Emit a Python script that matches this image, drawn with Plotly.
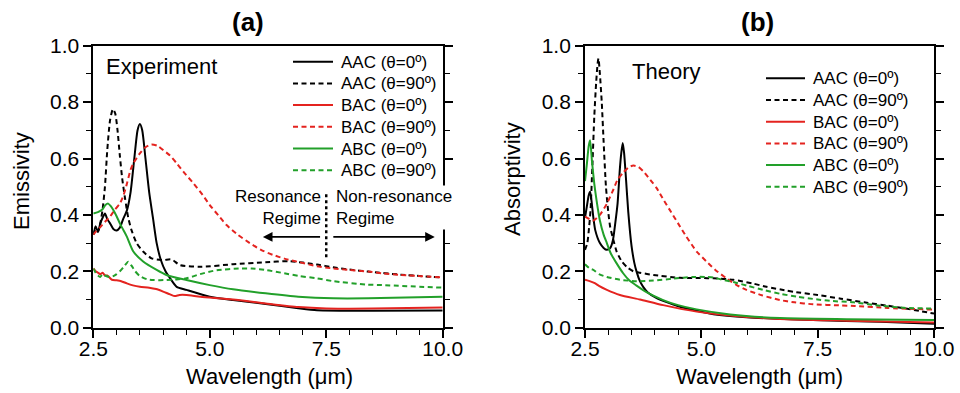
import plotly.graph_objects as go

# ---------------- data: panel (a) Experiment ----------------
a_aac0_x = [2.50, 2.55, 2.60, 2.65, 2.70, 2.75, 2.80, 2.86, 2.93, 3.00, 3.07, 3.14, 3.22, 3.30, 3.38, 3.45, 3.50, 3.55, 3.62, 3.70, 3.78, 3.86, 3.95, 4.05, 4.15, 4.29, 4.50, 5.00, 5.50, 6.20, 6.90, 7.30, 8.50, 10.0]
a_aac0_y = [0.33, 0.36, 0.34, 0.37, 0.39, 0.405, 0.385, 0.37, 0.35, 0.345, 0.355, 0.385, 0.415, 0.48, 0.60, 0.70, 0.722, 0.70, 0.60, 0.48, 0.39, 0.30, 0.24, 0.20, 0.175, 0.145, 0.134, 0.11, 0.098, 0.084, 0.069, 0.062, 0.060, 0.061]

a_aac90_x = [2.50, 2.55, 2.60, 2.65, 2.70, 2.75, 2.80, 2.86, 2.92, 2.97, 3.02, 3.07, 3.12, 3.18, 3.25, 3.32, 3.43, 3.57, 3.75, 4.00, 4.18, 4.36, 4.80, 5.50, 6.20, 6.70, 7.30, 7.65, 8.00, 8.40, 9.10, 10.0]
a_aac90_y = [0.33, 0.35, 0.34, 0.37, 0.42, 0.50, 0.63, 0.736, 0.775, 0.76, 0.70, 0.61, 0.53, 0.46, 0.39, 0.346, 0.30, 0.27, 0.246, 0.24, 0.242, 0.222, 0.216, 0.225, 0.232, 0.236, 0.224, 0.214, 0.206, 0.199, 0.188, 0.178]

a_bac0_x = [2.50, 2.55, 2.60, 2.65, 2.70, 2.75, 2.80, 2.90, 3.00, 3.10, 3.22, 3.35, 3.50, 3.70, 3.85, 4.00, 4.15, 4.25, 4.35, 4.50, 4.80, 5.50, 6.20, 6.90, 7.50, 8.50, 10.0]
a_bac0_y = [0.21, 0.20, 0.195, 0.19, 0.195, 0.185, 0.185, 0.17, 0.168, 0.165, 0.157, 0.15, 0.145, 0.142, 0.137, 0.128, 0.118, 0.112, 0.116, 0.116, 0.11, 0.10, 0.086, 0.073, 0.068, 0.068, 0.072]

a_bac90_x = [2.50, 2.55, 2.64, 2.75, 2.86, 2.97, 3.07, 3.15, 3.22, 3.30, 3.36, 3.50, 3.62, 3.75, 3.88, 4.00, 4.15, 4.29, 4.45, 4.65, 4.85, 5.00, 5.20, 5.36, 5.60, 5.86, 6.10, 6.36, 6.60, 6.93, 7.30, 7.65, 8.00, 8.40, 8.70, 9.10, 10.0]
a_bac90_y = [0.33, 0.34, 0.355, 0.375, 0.394, 0.42, 0.44, 0.47, 0.51, 0.56, 0.583, 0.618, 0.64, 0.65, 0.645, 0.63, 0.61, 0.583, 0.55, 0.512, 0.47, 0.435, 0.395, 0.364, 0.33, 0.30, 0.276, 0.258, 0.245, 0.232, 0.218, 0.21, 0.205, 0.199, 0.193, 0.187, 0.178]

a_abc0_x = [2.50, 2.60, 2.70, 2.76, 2.82, 2.88, 2.93, 3.00, 3.07, 3.15, 3.22, 3.36, 3.57, 3.86, 4.07, 4.50, 5.00, 5.50, 6.20, 6.90, 7.65, 8.40, 10.0]
a_abc0_y = [0.405, 0.41, 0.42, 0.435, 0.44, 0.43, 0.417, 0.395, 0.37, 0.345, 0.323, 0.27, 0.235, 0.205, 0.187, 0.169, 0.151, 0.136, 0.122, 0.11, 0.104, 0.104, 0.11]

a_abc90_x = [2.50, 2.55, 2.60, 2.65, 2.70, 2.75, 2.85, 2.93, 3.00, 3.07, 3.15, 3.25, 3.32, 3.40, 3.50, 3.65, 3.79, 4.07, 4.50, 4.79, 5.15, 5.65, 5.90, 6.22, 6.60, 6.93, 7.30, 7.65, 8.37, 8.70, 10.0]
a_abc90_y = [0.21, 0.195, 0.185, 0.18, 0.19, 0.185, 0.18, 0.183, 0.19, 0.20, 0.215, 0.234, 0.22, 0.20, 0.183, 0.172, 0.169, 0.169, 0.175, 0.19, 0.204, 0.21, 0.21, 0.204, 0.193, 0.183, 0.175, 0.165, 0.153, 0.151, 0.142]

# ---------------- data: panel (b) Theory ----------------
b_aac0_x = [2.50, 2.54, 2.58, 2.61, 2.64, 2.68, 2.72, 2.82, 2.90, 2.97, 3.04, 3.10, 3.15, 3.20, 3.25, 3.28, 3.31, 3.34, 3.38, 3.43, 3.50, 3.56, 3.61, 3.68, 3.75, 3.85, 4.04, 4.30, 4.54, 4.90, 5.26, 5.97, 7.40, 8.84, 10.0]
b_aac0_y = [0.39, 0.43, 0.47, 0.482, 0.45, 0.39, 0.346, 0.30, 0.283, 0.276, 0.282, 0.31, 0.37, 0.44, 0.565, 0.62, 0.655, 0.62, 0.53, 0.41, 0.29, 0.23, 0.198, 0.165, 0.145, 0.125, 0.105, 0.088, 0.074, 0.06, 0.048, 0.037, 0.027, 0.021, 0.014]

b_aac90_x = [2.50, 2.55, 2.59, 2.62, 2.66, 2.70, 2.74, 2.77, 2.79, 2.82, 2.86, 2.90, 2.95, 3.00, 3.04, 3.11, 3.18, 3.29, 3.40, 3.54, 3.68, 3.97, 4.54, 5.00, 5.26, 5.69, 6.10, 6.40, 6.82, 7.00, 7.50, 8.00, 8.50, 9.00, 9.50, 10.0]
b_aac90_y = [0.276, 0.30, 0.36, 0.42, 0.58, 0.75, 0.87, 0.935, 0.955, 0.90, 0.80, 0.66, 0.50, 0.41, 0.358, 0.311, 0.27, 0.235, 0.215, 0.20, 0.195, 0.187, 0.177, 0.176, 0.175, 0.17, 0.157, 0.145, 0.132, 0.127, 0.116, 0.103, 0.09, 0.078, 0.065, 0.05]

b_bac0_x = [2.50, 2.60, 2.71, 2.80, 2.97, 3.25, 3.68, 4.18, 4.90, 5.62, 6.69, 8.12, 10.0]
b_bac0_y = [0.17, 0.165, 0.158, 0.148, 0.134, 0.116, 0.10, 0.08, 0.057, 0.043, 0.031, 0.025, 0.018]

b_bac90_x = [2.50, 2.60, 2.68, 2.82, 2.97, 3.11, 3.20, 3.32, 3.45, 3.54, 3.65, 3.75, 3.90, 4.04, 4.20, 4.35, 4.50, 4.65, 4.90, 5.11, 5.30, 5.54, 5.75, 5.97, 6.30, 6.69, 7.00, 7.40, 8.00, 8.30, 9.00, 10.0]
b_bac90_y = [0.394, 0.385, 0.38, 0.40, 0.44, 0.49, 0.525, 0.55, 0.57, 0.575, 0.57, 0.555, 0.525, 0.495, 0.45, 0.41, 0.37, 0.33, 0.27, 0.235, 0.205, 0.175, 0.152, 0.134, 0.115, 0.098, 0.09, 0.083, 0.079, 0.077, 0.07, 0.064]

b_abc0_x = [2.50, 2.54, 2.58, 2.61, 2.65, 2.70, 2.75, 2.82, 2.90, 2.97, 3.05, 3.18, 3.32, 3.45, 3.60, 3.83, 4.18, 4.50, 4.90, 5.62, 6.69, 8.12, 10.0]
b_abc0_y = [0.52, 0.58, 0.645, 0.665, 0.59, 0.51, 0.45, 0.38, 0.33, 0.30, 0.265, 0.228, 0.193, 0.168, 0.15, 0.125, 0.098, 0.08, 0.065, 0.047, 0.034, 0.03, 0.027]

b_abc90_x = [2.50, 2.60, 2.68, 2.80, 2.97, 3.25, 3.61, 3.97, 4.40, 4.83, 5.10, 5.26, 5.50, 5.69, 6.00, 6.33, 6.70, 7.05, 7.50, 7.77, 8.27, 8.84, 9.40, 10.0]
b_abc90_y = [0.225, 0.21, 0.205, 0.19, 0.18, 0.17, 0.165, 0.167, 0.174, 0.18, 0.18, 0.178, 0.168, 0.162, 0.148, 0.134, 0.12, 0.11, 0.10, 0.095, 0.09, 0.078, 0.07, 0.068]

series_names = ["AAC (θ=0º)", "AAC (θ=90º)", "BAC (θ=0º)", "BAC (θ=90º)", "ABC (θ=0º)", "ABC (θ=90º)"]

# regime annotation values (panel a)
regime_line_x = [7.5, 7.5]
regime_line_y = [0.25, 0.48]
arrow_y = 0.322
arrow_left = [7.40, 6.14]   # tail, head
arrow_right = [7.62, 9.83]  # tail, head

# ---------------- styling ----------------
BLACK = "#000000"
RED = "#e4231f"
GREEN = "#22a02a"
FONT = "Liberation Sans, Arial, sans-serif"
colors = [BLACK, BLACK, RED, RED, GREEN, GREEN]
dashes = ["solid", "5px,3.5px", "solid", "5px,3.5px", "solid", "5px,3.5px"]

panel_a = [(a_aac0_x, a_aac0_y), (a_aac90_x, a_aac90_y), (a_bac0_x, a_bac0_y),
           (a_bac90_x, a_bac90_y), (a_abc0_x, a_abc0_y), (a_abc90_x, a_abc90_y)]
panel_b = [(b_aac0_x, b_aac0_y), (b_aac90_x, b_aac90_y), (b_bac0_x, b_bac0_y),
           (b_bac90_x, b_bac90_y), (b_abc0_x, b_abc0_y), (b_abc90_x, b_abc90_y)]

fig = go.Figure()

for i, (xs, ys) in enumerate(panel_a):
    fig.add_trace(go.Scatter(x=xs, y=ys, mode="lines", name=series_names[i], showlegend=False,
                             line=dict(color=colors[i], width=2, dash=dashes[i], shape="spline", smoothing=0.6),
                             xaxis="x", yaxis="y"))
for i, (xs, ys) in enumerate(panel_b):
    fig.add_trace(go.Scatter(x=xs, y=ys, mode="lines", name=series_names[i], showlegend=False,
                             line=dict(color=colors[i], width=2, dash=dashes[i], shape="spline", smoothing=0.6),
                             xaxis="x2", yaxis="y2"))

fig.add_trace(go.Scatter(x=regime_line_x, y=regime_line_y, mode="lines", showlegend=False,
                         line=dict(color=BLACK, width=2.5, dash="dot"), xaxis="x", yaxis="y"))

W, H = 960, 393
ax_a = [93.3, 442.7]
ax_b = [585.0, 934.0]
y_top, y_bot = 45.7, 327.7


def px_x(p):
    return p / W


def px_y(p):
    return (H - p) / H


ydom = [px_y(y_bot), px_y(y_top)]

common_x = dict(range=[2.5, 10.0], tick0=2.5, dtick=2.5, tickformat=".1f",
                showline=True, linecolor=BLACK, linewidth=1.8, mirror=True,
                ticks="outside", ticklen=8, tickwidth=1.6, tickcolor=BLACK,
                minor=dict(dtick=0.5, ticks="outside", ticklen=5, tickwidth=1.4, tickcolor=BLACK, showgrid=False),
                showgrid=False, zeroline=False, automargin=False, ticklabelstandoff=-7,
                tickfont=dict(family=FONT, size=21, color=BLACK))
common_y = dict(range=[0.0, 1.0], tick0=0, dtick=0.2, tickformat=".1f",
                showline=True, linecolor=BLACK, linewidth=1.8, mirror="ticks",
                ticks="outside", ticklen=8, tickwidth=1.6, tickcolor=BLACK,
                minor=dict(dtick=0.1, ticks="outside", ticklen=5, tickwidth=1.4, tickcolor=BLACK, showgrid=False),
                showgrid=False, zeroline=False, automargin=False,
                tickfont=dict(family=FONT, size=21, color=BLACK))

fig.update_layout(
    width=W, height=H, autosize=False,
    margin=dict(l=0, r=0, t=0, b=0, pad=0, autoexpand=False),
    paper_bgcolor="white", plot_bgcolor="white",
    font=dict(family=FONT, color=BLACK),
    showlegend=False,
    xaxis=dict(domain=[px_x(ax_a[0]), px_x(ax_a[1])], anchor="y", **common_x),
    yaxis=dict(domain=ydom, anchor="x", **common_y),
    xaxis2=dict(domain=[px_x(ax_b[0]), px_x(ax_b[1])], anchor="y2", **common_x),
    yaxis2=dict(domain=ydom, anchor="x2", **common_y),
)

ann = []
shapes = []


def text_ann(text, x, y, size, xanchor="center", yanchor="middle", **kw):
    d = dict(text=text, x=x, y=y, xref="paper", yref="paper", xanchor=xanchor, yanchor=yanchor,
             showarrow=False, font=dict(family=FONT, size=size, color=BLACK))
    d.update(kw)
    return d


# panel titles
ann.append(text_ann("<b>(a)</b>", px_x(248), px_y(22), 26))
ann.append(text_ann("<b>(b)</b>", px_x(757), px_y(22), 26))
# axis titles
ann.append(text_ann("Emissivity", px_x(22), px_y(181), 22, textangle=-90))
ann.append(text_ann("Absorptivity", px_x(512), px_y(179), 22, textangle=-90))
ann.append(text_ann("Wavelength (μm)", px_x(269), px_y(376), 22))
ann.append(text_ann("Wavelength (μm)", px_x(759), px_y(376), 22))

# legends (line sample + label), one per panel
legend_specs = [(293, 333, 339, 61.7), (766, 805, 811, 78.3)]
row_gap = 21.7
for (lx0, lx1, tx, ty0) in legend_specs:
    for i, name in enumerate(series_names):
        yy = ty0 + i * row_gap
        shapes.append(dict(type="line", xref="paper", yref="paper",
                           x0=px_x(lx0), x1=px_x(lx1), y0=px_y(yy), y1=px_y(yy),
                           line=dict(color=colors[i], width=2, dash=dashes[i])))
        ann.append(text_ann(name, px_x(tx), px_y(yy + 0.5), 17, xanchor="left"))

# panel labels
ann.append(dict(text="Experiment", x=2.73, y=0.925, xref="x", yref="y", xanchor="left", yanchor="middle",
                showarrow=False, font=dict(family=FONT, size=22, color=BLACK)))
ann.append(dict(text="Theory", x=3.47, y=0.908, xref="x2", yref="y2", xanchor="left", yanchor="middle",
                showarrow=False, font=dict(family=FONT, size=22, color=BLACK)))
# regime texts
ann.append(dict(text="Resonance<br>Regime", x=7.42, y=0.428, xref="x", yref="y", xanchor="right",
                yanchor="middle", align="right", showarrow=False, font=dict(family=FONT, size=17, color=BLACK)))
ann.append(dict(text="Non-resonance<br>Regime", x=7.66, y=0.428, xref="x", yref="y", xanchor="left",
                yanchor="middle", align="left", showarrow=False, bgcolor="white",
                font=dict(family=FONT, size=17, color=BLACK)))
# arrows
ann.append(dict(x=arrow_left[1], y=arrow_y, ax=arrow_left[0], ay=arrow_y, xref="x", yref="y",
                axref="x", ayref="y", text="", showarrow=True, arrowhead=2, arrowsize=1.2,
                arrowwidth=1.6, arrowcolor=BLACK))
ann.append(dict(x=arrow_right[1], y=arrow_y, ax=arrow_right[0], ay=arrow_y, xref="x", yref="y",
                axref="x", ayref="y", text="", showarrow=True, arrowhead=2, arrowsize=1.2,
                arrowwidth=1.6, arrowcolor=BLACK))
fig.update_layout(annotations=ann, shapes=shapes)

fig.write_html("out.html", config={"displayModeBar": False},
               post_script="document.body.style.margin='0px';document.body.style.padding='0px';")
